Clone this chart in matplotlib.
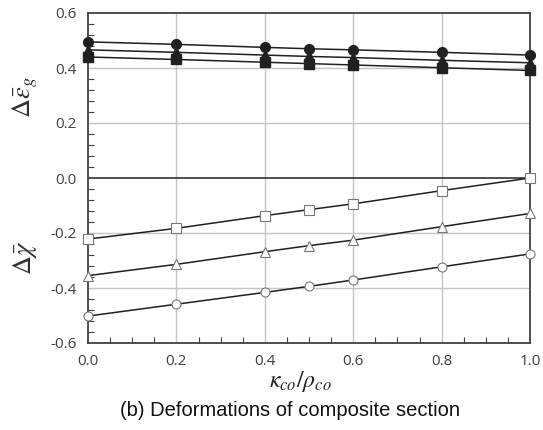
import matplotlib
matplotlib.use("Agg")
import matplotlib.pyplot as plt
from matplotlib.ticker import MultipleLocator

x = [0.0, 0.2, 0.4, 0.5, 0.6, 0.8, 1.0]

eps_circle = [0.495, 0.486, 0.475, 0.470, 0.466, 0.457, 0.447]
eps_triangle = [0.466, 0.457, 0.447, 0.442, 0.438, 0.428, 0.419]
eps_square = [0.440, 0.431, 0.421, 0.416, 0.411, 0.401, 0.391]

chi_square = [-0.222, -0.183, -0.137, -0.115, -0.094, -0.046, 0.0]
chi_triangle = [-0.355, -0.314, -0.268, -0.246, -0.226, -0.177, -0.129]
chi_circle = [-0.502, -0.459, -0.416, -0.394, -0.371, -0.323, -0.276]

xticks = [0.0, 0.2, 0.4, 0.6, 0.8, 1.0]
yticks = [-0.6, -0.4, -0.2, 0.0, 0.2, 0.4, 0.6]

plt.rcParams["mathtext.fontset"] = "stix"

fig = plt.figure(figsize=(5.43, 4.30), dpi=100)
ax = fig.add_axes([88/543, 1-343/430, 442/543, 330/430])

for xv in xticks[1:-1]:
    ax.axvline(xv, color="#c4c4c4", lw=1.0, zorder=0)
for yv in yticks[1:-1]:
    if yv == 0.0:
        ax.axhline(yv, color="#202020", lw=1.1, zorder=1)
    else:
        ax.axhline(yv, color="#c4c4c4", lw=1.0, zorder=0)

kw_f = dict(color="#202020", lw=1.1, markersize=7, zorder=3, clip_on=False)
ax.plot(x, eps_circle, marker="o", **kw_f)
ax.plot(x, eps_triangle, marker="^", **kw_f)
ax.plot(x, eps_square, marker="s", **kw_f)

kw_o = dict(color="#202020", lw=1.1, markersize=6.5, markerfacecolor="white",
            markeredgecolor="#777777", markeredgewidth=0.8, zorder=3, clip_on=False)
ax.plot(x, chi_square, marker="s", **kw_o)
ax.plot(x, chi_triangle, marker="^", **kw_o)
ax.plot(x, chi_circle, marker="o", **kw_o)

ax.set_xlim(0, 1.0)
ax.set_ylim(-0.6, 0.6)
ax.set_xticks(xticks)
ax.set_yticks(yticks)
ax.set_xticklabels([f"{v:.1f}" for v in xticks])
ax.set_yticklabels([f"{v:.1f}" for v in yticks])
ax.xaxis.set_minor_locator(MultipleLocator(0.05))
ax.yaxis.set_minor_locator(MultipleLocator(0.04))
ax.tick_params(which="both", direction="in", top=False, right=False,
               labelsize=11, labelcolor="#404040", colors="#404040")
ax.tick_params(which="major", length=0, pad=8)
ax.tick_params(which="minor", length=4, width=0.8)
for sp in ax.spines.values():
    sp.set_color("#404040")
    sp.set_linewidth(1.3)
for lab in ax.get_xticklabels() + ax.get_yticklabels():
    lab.set_fontfamily("Open Sans")

fig.text(25/543, 1-97/430, r"$\Delta\bar{\epsilon}_g$", rotation=90,
         ha="center", va="center", fontsize=19, color="#303030")
fig.text(25/543, 1-258/430, r"$\Delta\bar{\chi}$", rotation=90,
         ha="center", va="center", fontsize=19, color="#303030")
fig.text(300/543, 1-381/430, r"$\kappa_{co}/\rho_{co}$", ha="center", va="center",
         fontsize=17, color="#202020")
fig.text(290/543, 1-411/430, "(b) Deformations of composite section",
         ha="center", va="center", fontsize=14.5, color="#111111",
         family="Liberation Sans")

fig.savefig("out.png", dpi=100)
